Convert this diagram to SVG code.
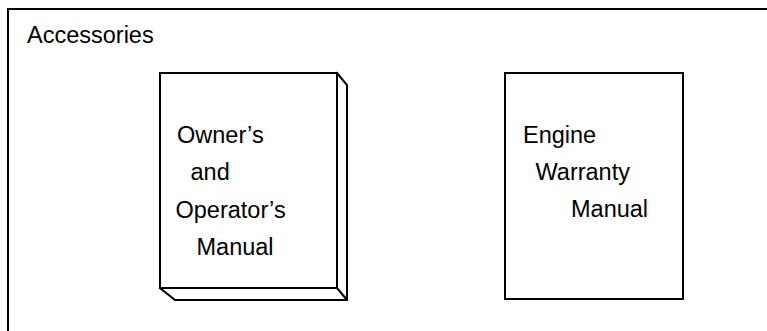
<svg xmlns="http://www.w3.org/2000/svg" width="767" height="331" viewBox="0 0 767 331">
<style>
.ln{fill:none;stroke:#000;stroke-width:2;stroke-linejoin:miter}
.face{fill:#fff;stroke:#000;stroke-width:2}
text{font-family:"Liberation Sans",Arial,sans-serif;font-size:23.5px;fill:#000}
</style>
<rect width="767" height="331" fill="#fff"/>
<g id="frame">
<path class="ln" d="M8 340 V9 H780"/>
<text x="27" y="42.5">Accessories</text>
</g>
<g id="owners-manual">
<path class="face" d="M337 73 L347 85 V300 H175 L160 288 Z"/>
<rect class="face" x="160" y="73" width="177" height="215"/>
<path class="ln" d="M337 288 L347 300"/>
<text x="177" y="142.5">Owner’s</text>
<text x="190.5" y="180">and</text>
<text x="175.5" y="217.5">Operator’s</text>
<text x="196.5" y="255">Manual</text>
</g>
<g id="warranty-manual">
<rect class="face" x="505" y="73" width="178" height="226"/>
<text x="523" y="142.5">Engine</text>
<text x="535.5" y="180">Warranty</text>
<text x="571" y="216.5">Manual</text>
</g>
<g id="connectors"/>
</svg>
